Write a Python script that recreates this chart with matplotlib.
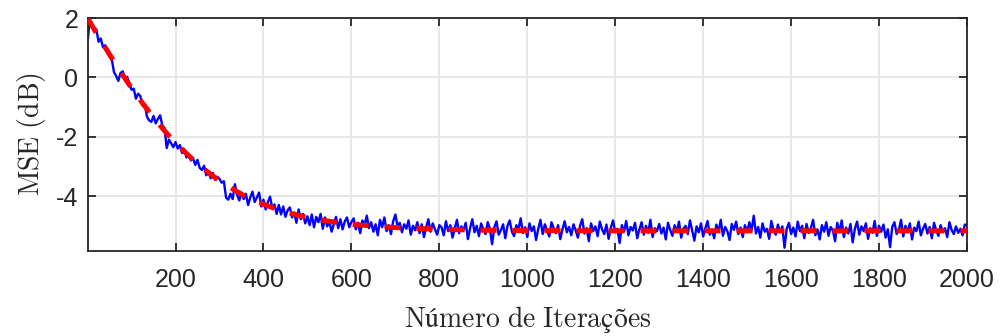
import numpy as np
import matplotlib
matplotlib.use('Agg')
import matplotlib.pyplot as plt

# curva de aprendizado (MSE em dB), uma amostra a cada 5 iteracoes
blue_x = np.concatenate(([1], np.arange(5, 2001, 5)))
blue_y = [
    1.32,
    1.97, 1.80, 1.55, 1.62, 1.20, 1.31, 1.02, 1.08, 0.97, 0.71,
    0.62, 0.18, 0.05, -0.12, 0.15, 0.20, -0.05, 0.02, -0.20, -0.42,
    -0.38, -0.72, -0.55, -0.63, -0.95, -0.90, -1.32, -1.45, -1.50, -1.30,
    -1.55, -1.40, -1.28, -1.62, -1.70, -2.38, -2.10, -2.22, -2.35, -2.18,
    -2.40, -2.28, -2.55, -2.42, -2.70, -2.58, -2.80, -2.72, -2.95, -2.78,
    -3.05, -3.12, -2.98, -3.30, -3.18, -3.40, -3.22, -3.45, -3.35, -3.42,
    -3.55, -3.50, -4.05, -4.12, -3.92, -4.10, -3.60, -3.95, -4.15, -3.88,
    -4.10, -3.92, -4.30, -4.05, -3.85, -4.20, -4.05, -3.88, -4.35, -4.12,
    -4.45, -4.20, -4.02, -4.40, -4.28, -4.60, -4.30, -4.62, -4.35, -4.70,
    -4.48, -4.38, -4.72, -4.55, -4.90, -4.45, -4.78, -4.60, -4.92, -4.68,
    -4.98, -4.62, -5.05, -4.70, -4.88, -4.60, -5.10, -4.72, -5.02, -4.85,
    -5.20, -4.95, -4.70, -5.08, -4.78, -5.12, -4.85, -4.72, -5.05, -4.88,
    -4.75, -5.12, -4.90, -5.25, -4.82, -4.98, -4.66, -5.08, -4.88, -5.20,
    -4.95, -5.32, -4.80, -5.05, -4.72, -5.18, -4.98, -5.28, -4.85, -4.62,
    -5.02, -4.90, -5.22, -4.95, -5.10, -4.82, -5.30, -5.00, -5.15, -4.88,
    -5.25, -4.95, -5.38, -5.05, -4.78, -5.20, -4.92, -5.12, -5.30, -4.98,
    -5.05, -5.32, -4.85, -5.18, -4.98, -5.40, -5.10, -4.80, -5.25, -5.02,
    -5.15, -4.90, -5.45, -5.08, -4.78, -5.22, -5.00, -5.35, -4.92, -5.12,
    -5.28, -4.88, -5.10, -5.62, -5.05, -4.85, -5.30, -5.15, -4.95, -5.42,
    -5.00, -4.82, -5.20, -5.35, -4.98, -5.12, -4.75, -5.25, -5.05, -5.38,
    -4.92, -5.18, -5.02, -5.48, -5.10, -4.80, -5.28, -4.95, -5.15, -5.36,
    -4.88, -5.08, -5.25, -4.98, -5.45, -5.12, -4.85, -5.22, -5.04, -5.32,
    -4.95, -5.15, -5.40, -5.00, -4.78, -5.26, -5.08, -5.52, -4.92, -5.18,
    -5.02, -5.35, -4.86, -5.12, -5.28, -4.96, -5.44, -5.06, -4.82, -5.22,
    -5.10, -5.58, -4.98, -5.20, -4.84, -5.32, -5.04, -5.16, -4.90, -5.42,
    -5.12, -4.88, -5.30, -5.00, -5.24, -4.80, -5.38, -5.08, -5.18, -4.94,
    -5.26, -5.06, -5.46, -4.90, -5.14, -5.34, -4.98, -5.20, -4.86, -5.40,
    -5.10, -5.00, -5.28, -4.82, -5.16, -5.50, -5.02, -5.22, -4.92, -5.36,
    -5.08, -4.84, -5.30, -5.12, -5.42, -4.96, -5.20, -4.80, -5.34, -5.04,
    -5.18, -5.48, -4.94, -5.14, -4.86, -5.28, -5.06, -5.38, -4.98, -5.22,
    -4.88, -5.16, -4.66, -5.26, -5.04, -5.40, -4.92, -5.20, -5.10, -5.44,
    -4.84, -5.14, -5.30, -4.96, -5.22, -5.02, -5.74, -5.10, -4.90, -5.28,
    -5.06, -5.36, -4.86, -5.18, -5.00, -5.42, -4.94, -5.24, -5.08, -4.80,
    -5.32, -5.12, -5.46, -4.98, -5.20, -4.88, -5.34, -5.04, -5.16, -5.52,
    -4.90, -5.22, -4.82, -5.38, -5.06, -5.26, -4.94, -5.56, -5.10, -4.86,
    -5.30, -5.02, -5.18, -4.92, -5.44, -5.08, -5.24, -4.84, -5.34, -5.00,
    -5.20, -4.96, -5.40, -5.12, -5.72, -5.04, -4.88, -5.28, -5.14, -4.80,
    -5.36, -5.00, -5.22, -4.92, -5.46, -5.06, -5.18, -4.86, -5.32, -5.10,
    -4.94, -5.26, -5.04, -5.42, -4.90, -5.16, -5.34, -4.98, -5.20, -5.08,
    -5.38, -4.88, -5.14, -5.28, -5.02, -5.24, -5.10, -5.32, -4.96, -4.98,
]

# curva teorica
red_x = [1, 25, 50, 75, 100, 125, 150, 175, 200, 250, 300, 350, 400,
         450, 500, 550, 600, 650, 700, 800, 900, 1000, 1200, 1500, 2000]
red_y = [1.97, 1.37, 0.77, 0.19, -0.36, -0.87, -1.35, -1.80, -2.21, -2.92,
         -3.49, -3.94, -4.28, -4.54, -4.72, -4.85, -4.95, -5.01, -5.06,
         -5.12, -5.15, -5.16, -5.17, -5.17, -5.17]

xticks = [200, 400, 600, 800, 1000, 1200, 1400, 1600, 1800, 2000]
yticks = [-4, -2, 0, 2]

plt.rcParams['mathtext.fontset'] = 'cm'
plt.rcParams['font.family'] = ['Liberation Sans', 'DejaVu Sans']

fig = plt.figure(figsize=(10.01, 3.36), dpi=100)
ax = fig.add_axes([88/1001, 1 - 251/336, 879/1001, 233/336])

ax.plot(blue_x, blue_y, color='#0000ff', linewidth=1.7, zorder=2)
ax.plot(red_x, red_y, color='#ff0000', linewidth=3.6, dashes=(3.2, 3.2), zorder=3)

ax.set_xlim(1, 2000)
ax.set_ylim(-5.85, 2)
ax.set_xticks(xticks)
ax.set_yticks(yticks)
ax.set_yticklabels([str(v) for v in yticks])

ax.grid(True, color='#e3e3e3', linewidth=1.2, zorder=0)
ax.set_axisbelow(True)
for s in ax.spines.values():
    s.set_color('#262626')
    s.set_linewidth(1.3)
ax.tick_params(direction='in', length=6, width=1.3, color='#262626',
               labelcolor='#262626', labelsize=18, top=True, right=True)
ax.tick_params(axis='x', pad=12)
ax.tick_params(axis='y', pad=7)

ax.set_xlabel(r'$\mathrm{Número\ de\ Iterações}$', fontsize=20, color='#262626', labelpad=9)
ax.set_ylabel(r'$\mathrm{MSE\ (dB)}$', fontsize=20, color='#262626', labelpad=6)

fig.savefig('out.png', dpi=100)
